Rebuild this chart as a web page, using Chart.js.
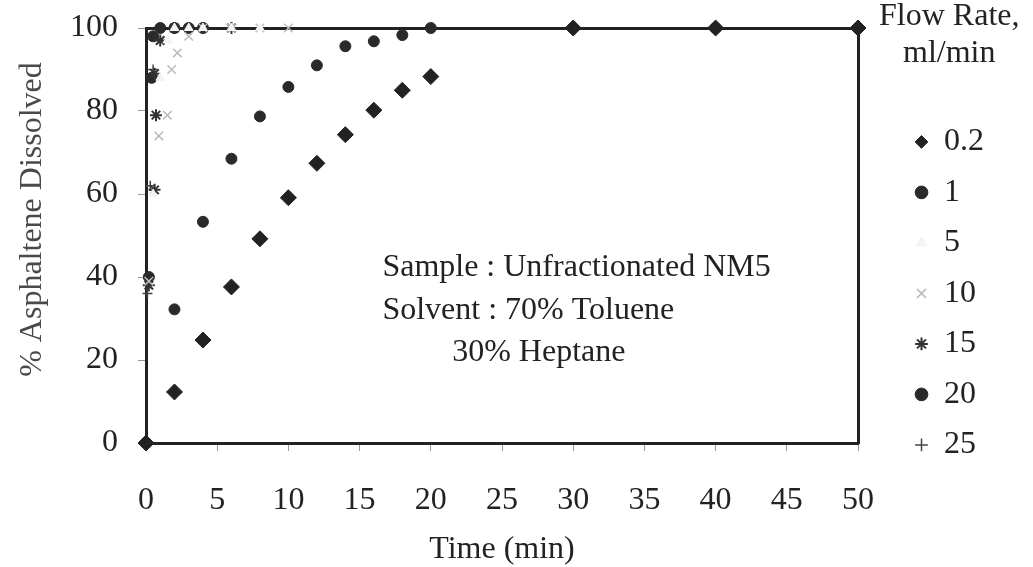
<!DOCTYPE html>
<html>
<head>
<meta charset="utf-8">
<title>Asphaltene dissolution</title>
<script src="https://cdn.jsdelivr.net/npm/chart.js@4"></script>
<style>
  html, body { margin: 0; padding: 0; background: #fff; }
  #wrap { width: 1033px; height: 567px; position: relative; }
</style>
</head>
<body>
<div id="wrap"><canvas id="asphChart"></canvas></div>
<script>
// flow rates (ml/min), one series each
const flowRates = ["0.2", "1", "5", "10", "15", "20", "25"];

const time02 = [0, 2, 4, 6, 8, 10, 12, 14, 16, 18, 20, 30, 40, 50];
const diss02 = [0, 12.3, 24.8, 37.6, 49.2, 59.1, 67.4, 74.3, 80.2, 85, 88.3, 100, 100, 100];

const time1 = [0, 2, 4, 6, 8, 10, 12, 14, 16, 18, 20, 30, 40, 50];
const diss1 = [0, 32.2, 53.3, 68.5, 78.7, 85.8, 91, 95.6, 96.8, 98.3, 100, 100, 100, 100];

const time5 = [0, 0.5, 1, 1.5, 2, 3, 4, 6, 8];
const diss5 = [0, 60, 88, 97, 100, 100, 100, 100, 100];

const time10 = [0, 0.2, 0.9, 1.5, 1.8, 2.2, 3, 4, 6, 8, 10];
const diss10 = [0, 39, 74, 79, 90, 94, 98, 100, 100, 100, 100];

const time15 = [0, 0.2, 0.6, 0.7, 0.6, 1, 2, 4, 6];
const diss15 = [0, 38, 61, 79, 89, 97, 100, 100, 100];

const time20 = [0, 0.2, 0.4, 0.5, 1, 2, 3, 4];
const diss20 = [0, 40, 88, 98, 100, 100, 100, 100];

const time25 = [0, 0.1, 0.3, 0.5, 1, 2];
const diss25 = [0, 36, 62, 90, 100, 100];

const xTicks = [0, 5, 10, 15, 20, 25, 30, 35, 40, 45, 50];
const yTicks = [0, 20, 40, 60, 80, 100];

const legendHeading = ["Flow Rate,", "ml/min"];
const noteLines = ["Sample : Unfractionated NM5", "Solvent : 70% Toluene", "30% Heptane"];

function pts(xs, ys) {
  return xs.map((x, i) => ({ x: x, y: ys[i] }));
}

const serif = "'Liberation Serif', 'Times New Roman', serif";
Chart.defaults.font.family = serif;
Chart.defaults.font.size = 32;
Chart.defaults.color = "#222";

const frame = { display: true, color: "#222", width: 3 };

// text box inside the plot (anchored in data units) and the legend heading
const notePlugin = {
  id: "note",
  afterDraw(chart) {
    const { ctx, scales, legend } = chart;
    const anchors = [[16.6, 42.2], [16.6, 32.0], [21.5, 21.7]];
    ctx.save();
    ctx.font = "32px " + serif;
    ctx.fillStyle = "#222";
    ctx.textAlign = "left";
    ctx.textBaseline = "middle";
    noteLines.forEach((t, i) => {
      ctx.fillText(t, scales.x.getPixelForValue(anchors[i][0]), scales.y.getPixelForValue(anchors[i][1]));
    });
    ctx.textAlign = "center";
    const cx = legend.left + legend.width / 2 + 4;
    legendHeading.forEach((t, i) => ctx.fillText(t, cx, 17 + i * 37));
    ctx.restore();
  }
};

const data = {
  datasets: [
    { label: flowRates[0], data: pts(time02, diss02), pointStyle: "rectRot", pointRadius: 8,
      backgroundColor: "#222", borderColor: "#222", borderWidth: 1 },
    { label: flowRates[1], data: pts(time1, diss1), pointStyle: "circle", pointRadius: 5.5,
      backgroundColor: "#2a2a2a", borderColor: "#2a2a2a", borderWidth: 1 },
    { label: flowRates[2], data: pts(time5, diss5), pointStyle: "triangle", pointRadius: 5,
      backgroundColor: "#f3f3f3", borderColor: "#f3f3f3", borderWidth: 1 },
    { label: flowRates[3], data: pts(time10, diss10), pointStyle: "crossRot", pointRadius: 6,
      backgroundColor: "#bbb", borderColor: "#bbb", borderWidth: 1.5 },
    { label: flowRates[4], data: pts(time15, diss15), pointStyle: "star", pointRadius: 6,
      backgroundColor: "#333", borderColor: "#333", borderWidth: 2 },
    { label: flowRates[5], data: pts(time20, diss20), pointStyle: "circle", pointRadius: 5.5,
      backgroundColor: "#2a2a2a", borderColor: "#2a2a2a", borderWidth: 1 },
    { label: flowRates[6], data: pts(time25, diss25), pointStyle: "cross", pointRadius: 5,
      backgroundColor: "#444", borderColor: "#444", borderWidth: 1.5 }
  ]
};
data.datasets.forEach(d => { d.clip = false; d.showLine = false; });

const config = {
  type: "scatter",
  data: data,
  options: {
    responsive: true,
    maintainAspectRatio: false,
    animation: false,
    layout: { padding: { right: 39 } },
    scales: {
      x: {
        type: "linear", position: "bottom", min: 0, max: 50,
        afterBuildTicks: s => { s.ticks = xTicks.map(v => ({ value: v })); },
        afterFit: s => { s.height = 124; s.paddingLeft = 0; s.paddingRight = 0; },
        ticks: { padding: 30, color: "#222" },
        grid: { drawOnChartArea: false, drawTicks: true, tickLength: 8, color: "#999" },
        border: frame,
        title: { display: true, text: "Time (min)", color: "#222", padding: { top: 0, bottom: -2 } }
      },
      y: {
        type: "linear", position: "left", min: 0, max: 100,
        afterBuildTicks: s => { s.ticks = yTicks.map(v => ({ value: v })); },
        afterFit: s => { s.width = 146; s.paddingTop = 0; s.paddingBottom = 0; },
        ticks: { padding: 20, color: "#222" },
        grid: { drawOnChartArea: false, drawTicks: true, tickLength: 8, color: "#999" },
        border: frame,
        title: { display: true, text: "    % Asphaltene Dissolved", color: "#4a4a4a", padding: { top: 13, bottom: 0 } }
      },
      xTop: {
        type: "linear", position: "top", min: 0, max: 50, display: true,
        afterFit: s => { s.height = 28; },
        ticks: { display: false }, grid: { display: false }, border: frame
      },
      yRight: {
        type: "linear", position: "right", min: 0, max: 100, display: true,
        afterFit: s => { s.width = 38.5; },
        ticks: { display: false }, grid: { display: false }, border: frame
      }
    },
    plugins: {
      tooltip: { enabled: false },
      legend: {
        position: "right",
        align: "start",
        title: {
          // room for the two-line heading drawn by the note plugin
          display: true,
          text: "",
          font: { size: 32 },
          padding: { top: 0, bottom: 69 }
        },
        labels: {
          usePointStyle: true,
          boxWidth: 13,
          boxHeight: 9,
          padding: 18.5,
          color: "#222",
          font: { size: 32 }
        }
      }
    }
  },
  plugins: [notePlugin]
};

const asphChart = new Chart(document.getElementById("asphChart"), config);
</script>
</body>
</html>
